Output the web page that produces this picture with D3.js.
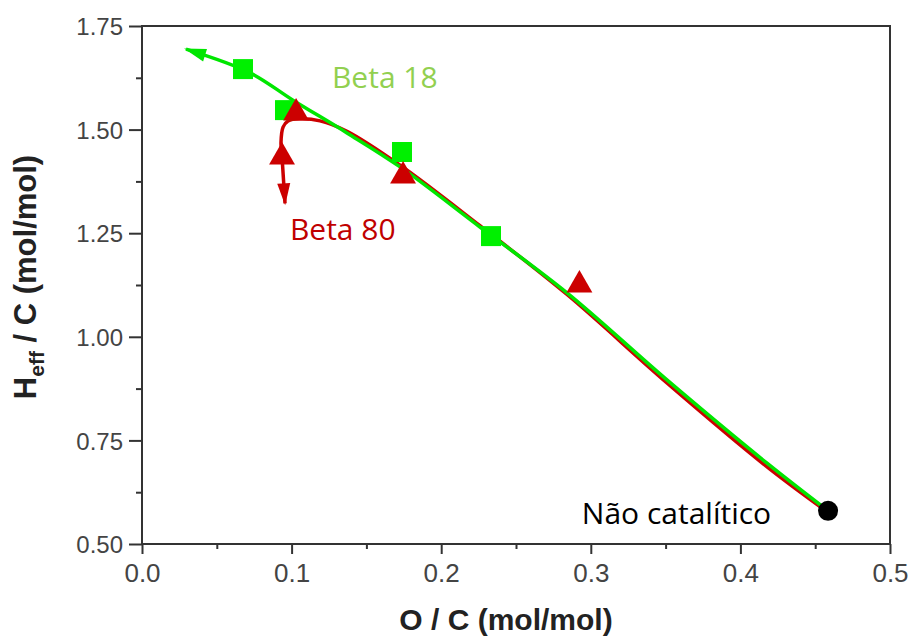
<!DOCTYPE html>
<html>
<head>
<meta charset="utf-8">
<script src="https://cdn.jsdelivr.net/npm/d3@7"></script>
<style>
  body { margin: 0; background: #fff; }
  svg { display: block; }
</style>
</head>
<body>
<svg id="chart" width="910" height="639"></svg>
<script>
// tick values
const xTicks = [0, 0.1, 0.2, 0.3, 0.4, 0.5];
const xMinor = [0.05, 0.15, 0.25, 0.35, 0.45];
const yTicks = [0.5, 0.75, 1.0, 1.25, 1.5, 1.75];
const yMinor = [0.625, 0.875, 1.125, 1.375, 1.625];

// Beta 18 markers (O/C, Heff/C)
const beta18Points = [[0.0675, 1.646], [0.0956, 1.547], [0.1738, 1.446], [0.2333, 1.243]];
// Beta 80 markers
const beta80Points = [[0.1030, 1.540], [0.0936, 1.434], [0.1745, 1.388], [0.2924, 1.125]];
// non catalytic point
const nonCatPoint = [[0.4586, 0.580]];

// trajectory curves, starting at the non catalytic point
const beta18Path = [
  [0.4586, 0.580], [0.4178, 0.695], [0.3509, 0.896], [0.2841, 1.106], [0.2259, 1.265],
  [0.1725, 1.410], [0.1370, 1.492], [0.1009, 1.571], [0.0722, 1.637], [0.0294, 1.694]
];
const beta80Path = [
  [0.4560, 0.583], [0.4172, 0.688], [0.3505, 0.890], [0.2841, 1.102], [0.2259, 1.268],
  [0.1725, 1.414], [0.1370, 1.496], [0.1190, 1.521], [0.1056, 1.526], [0.0976, 1.521],
  [0.0943, 1.506], [0.0929, 1.468], [0.0936, 1.434], [0.0943, 1.395], [0.0956, 1.322]
];

// annotation labels
const labels = [
  {text: 'Beta 18', x: 0.127, y: 1.600, color: '#92D050'},
  {text: 'Beta 80', x: 0.0989, y: 1.2336, color: '#C00000'},
  {text: 'Não catalítico', x: 0.294, y: 0.5483, color: '#000'}
];

const W = 910, H = 639;
const margin = {top: 26, right: 20, bottom: 95, left: 142};
const innerW = W - margin.left - margin.right;
const innerH = H - margin.top - margin.bottom;

const svg = d3.select('#chart');
const chart = svg.append('g')
  .attr('transform', `translate(${margin.left},${margin.top})`);

const scaleX = d3.scaleLinear().domain([0, 0.5]).range([0, innerW]);
const scaleY = d3.scaleLinear().domain([0.5, 1.75]).range([innerH, 0]);

// markers for arrow heads
const defs = svg.append('defs');
[['arrowGreen', '#00E600'], ['arrowRed', '#CC0000']].forEach(([id, c]) => {
  defs.append('marker')
    .attr('id', id)
    .attr('markerUnits', 'userSpaceOnUse')
    .attr('viewBox', '-2 -8 26 16')
    .attr('markerWidth', 26).attr('markerHeight', 16)
    .attr('refX', 20).attr('refY', 0)
    .attr('orient', 'auto')
    .append('path')
    .attr('d', 'M0,-6.5 L22,0 L0,6.5 Z')
    .attr('fill', c);
});

// axes
const xAxis = chart.append('g')
  .attr('transform', `translate(0,${innerH})`)
  .call(d3.axisBottom(scaleX).tickValues(xTicks).tickSize(10).tickPadding(10)
    .tickFormat(d3.format('.1f')));
chart.append('g')
  .attr('transform', `translate(0,${innerH})`)
  .call(d3.axisBottom(scaleX).tickValues(xMinor).tickSize(5).tickFormat(''));
const yAxis = chart.append('g')
  .call(d3.axisLeft(scaleY).tickValues(yTicks).tickSize(13).tickPadding(6)
    .tickFormat(d3.format('.2f')));
chart.append('g')
  .call(d3.axisLeft(scaleY).tickValues(yMinor).tickSize(6).tickFormat(''));

chart.selectAll('.domain').remove();
chart.selectAll('.tick line').attr('stroke', '#333').attr('stroke-width', 2);

xAxis.selectAll('text')
  .attr('fill', '#444')
  .style('font-family', '"Liberation Sans Narrow", "Liberation Sans", Arial, sans-serif')
  .style('font-size', '26px');
yAxis.selectAll('text')
  .attr('fill', '#444')
  .attr('dy', '0.36em')
  .style('font-family', '"Liberation Sans", Arial, sans-serif')
  .style('font-size', '24px');

// frame
chart.append('rect')
  .attr('x', 0).attr('y', 0)
  .attr('width', innerW).attr('height', innerH)
  .attr('fill', 'none')
  .attr('stroke', '#333')
  .attr('stroke-width', 2);

// axis titles
svg.append('text')
  .attr('x', margin.left + innerW / 2 - 10)
  .attr('y', 630)
  .attr('text-anchor', 'middle')
  .style('font-family', '"Liberation Sans", Arial, sans-serif')
  .style('font-weight', 'bold')
  .style('font-size', '30px')
  .attr('fill', '#222')
  .text('O / C (mol/mol)');

const yTitle = svg.append('text')
  .attr('transform', `translate(36,${margin.top + innerH / 2 - 8}) rotate(-90)`)
  .attr('text-anchor', 'middle')
  .style('font-family', '"Liberation Sans", Arial, sans-serif')
  .style('font-weight', 'bold')
  .style('font-size', '31px')
  .attr('fill', '#222');
yTitle.append('tspan').text('H');
yTitle.append('tspan').attr('dy', 8).style('font-size', '21px').text('eff');
yTitle.append('tspan').attr('dy', -8).text(' / C (mol/mol)');

// lines
const line = d3.line()
  .x(d => scaleX(d[0]))
  .y(d => scaleY(d[1]))
  .curve(d3.curveCatmullRom.alpha(0.5));

chart.append('path')
  .datum(beta80Path)
  .attr('d', line)
  .attr('fill', 'none')
  .attr('stroke', '#CC0000')
  .attr('stroke-width', 3.5)
  .attr('marker-end', 'url(#arrowRed)');

chart.append('path')
  .datum(beta18Path)
  .attr('d', line)
  .attr('fill', 'none')
  .attr('stroke', '#00E600')
  .attr('stroke-width', 3.5)
  .attr('marker-end', 'url(#arrowGreen)');

// points
chart.append('g').selectAll('path')
  .data(beta18Points)
  .enter().append('path')
  .attr('transform', d => `translate(${scaleX(d[0])},${scaleY(d[1])})`)
  .attr('d', d3.symbol(d3.symbolSquare, 400))
  .attr('fill', '#00F000');

chart.append('g').selectAll('path')
  .data(beta80Points)
  .enter().append('path')
  .attr('transform', d => `translate(${scaleX(d[0])},${scaleY(d[1])})`)
  .attr('d', d3.symbol(d3.symbolTriangle, 290))
  .attr('fill', '#CC0000');

chart.append('g').selectAll('circle')
  .data(nonCatPoint)
  .enter().append('circle')
  .attr('cx', d => scaleX(d[0]))
  .attr('cy', d => scaleY(d[1]))
  .attr('r', 10)
  .attr('fill', '#000');

// annotations
chart.append('g').selectAll('text')
  .data(labels)
  .enter().append('text')
  .attr('x', d => scaleX(d.x))
  .attr('y', d => scaleY(d.y))
  .attr('fill', d => d.color)
  .style('font-family', '"Open Sans", "Noto Sans", sans-serif')
  .style('font-size', '30px')
  .text(d => d.text);
</script>
</body>
</html>
